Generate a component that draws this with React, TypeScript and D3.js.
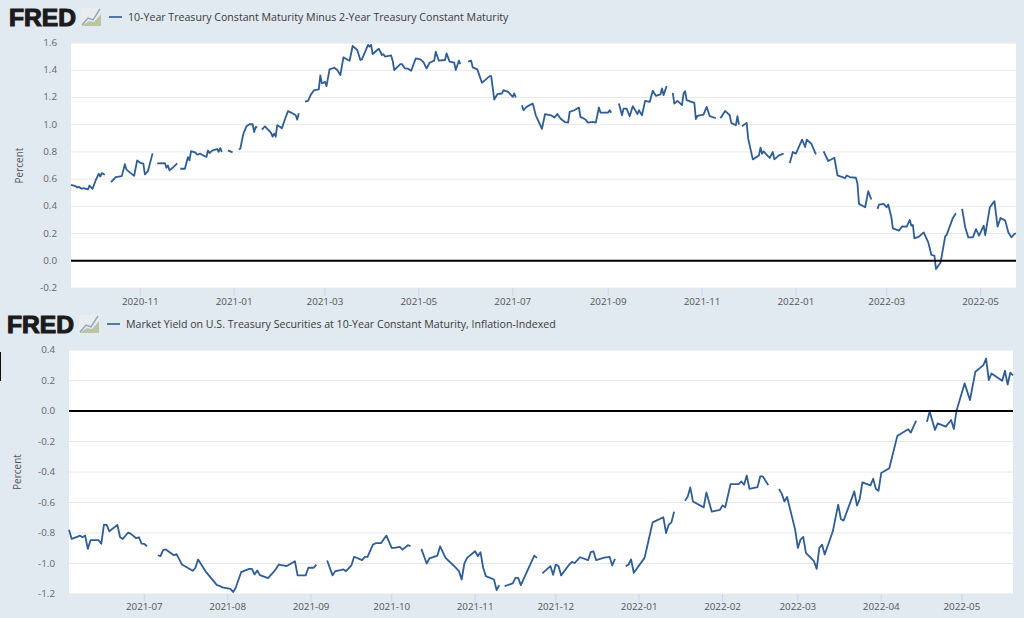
import React from "react";
import * as d3 from "d3";

// Days are counted from each chart's start date; null marks a gap in the published series.
const spreadStart = "2020-09-17";
const spreadEnd = "2022-05-24";
const spreadTitle = "10-Year Treasury Constant Maturity Minus 2-Year Treasury Constant Maturity";
const spreadDays: number[] = [
  0,3,4,5,7,8,11,12,14,16,18,19,20,22,23,
  26,29,31,33,35,36,38,41,43,45,47,48,50,53,54,
  56,61,62,63,64,66,69,70,
  71,74,76,77,78,81,82,84,85,88,89,90,92,95,96,97,98,99,
  102,105,106,
  109,110,112,114,116,118,119,120,121,122,
  124,126,130,131,132,133,134,136,137,139,141,143,146,147,148,149,
  152,154,156,158,161,162,163,164,165,166,168,171,173,175,177,180,181,183,186,188,189,193,194,195,196,200,202,203,204,208,209,210,214,215,217,219,221,224,227,229,231,233,236,237,239,243,244,246,249,250,252,253,254,
  258,260,261,264,267,269,272,273,275,277,280,281,284,287,288,289,290,
  293,294,296,300,302,306,308,312,314,316,318,321,323,324,327,330,331,334,336,339,341,343,344,349,350,351,352,
  356,358,359,361,363,365,368,369,371,373,376,378,380,383,384,385,387,388,
  391,392,394,396,397,398,399,400,405,406,407,411,413,415,419,420,
  422,425,428,429,432,433,434,435,
  436,439,440,443,447,448,449,450,454,456,457,460,463,464,
  467,469,471,475,477,478,481,484,485,
  489,492,496,498,503,504,506,510,511,512,516,518,520,521,
  524,525,528,530,531,533,534,538,540,543,545,546,547,548,551,554,557,559,561,562,565,568,569,573,575,576,
  579,581,583,586,588,590,593,594,597,600,602,604,607,609,611,613,614,
];
const spreadValues: (number | null)[] = [
  .558,.548,.538,.543,.529,.533,.524,.553,.529,.59,.639,.619,.644,.632,null,
  .578,.615,.619,.622,.71,.671,.651,.624,.737,.72,.713,.634,.659,.789,null,
  .715,.718,.683,.70,.664,.683,.715,null,
  .676,.676,.762,.737,.806,.794,.779,.787,.779,.762,.811,.792,.811,.821,.801,.828,.799,null,
  .811,.796,null,
  .819,.823,.934,.988,1.003,1.003,.946,.983,.98,null,
  .964,.988,.939,.912,.934,.912,.996,.983,.973,1.04,1.099,1.089,1.069,1.037,1.084,null,
  1.17,1.175,1.224,1.254,1.259,1.362,1.303,1.308,1.315,1.283,1.406,1.418,1.401,1.364,1.495,1.475,1.47,1.578,1.549,1.475,1.48,1.586,1.573,1.586,1.519,1.558,1.512,1.517,1.5,1.509,1.47,1.401,1.445,1.445,1.413,1.411,1.396,1.487,1.48,1.46,1.413,1.455,1.47,1.536,1.47,1.475,1.524,1.463,1.455,1.401,1.47,1.445,null,
  1.463,1.47,1.421,1.406,1.308,1.327,1.357,1.357,1.185,1.224,1.229,1.254,1.241,1.205,1.229,1.2,null,
  1.143,1.106,1.131,1.155,1.069,.969,1.078,1.069,1.052,1.078,1.045,1.018,1.015,1.094,1.106,1.126,1.057,1.04,1.015,1.02,1.015,1.126,1.089,1.089,1.106,1.087,null,
  1.155,1.069,1.118,1.118,1.062,1.136,1.078,1.106,1.069,1.175,1.167,1.249,1.212,1.222,1.266,1.217,1.283,null,
  1.234,1.155,1.175,1.155,1.143,1.229,1.246,1.18,1.16,1.04,1.064,1.074,1.131,1.062,1.047,null,
  1.047,1.101,1.069,1.013,.996,1.062,1.0,null,
  .988,1.013,.897,.745,.774,.831,.787,.804,.755,.799,.745,.774,.787,null,
  .718,.799,.787,.89,.836,.89,.86,.782,null,
  .804,.733,.757,.627,.607,.627,.615,.61,.565,.418,.393,.511,.45,null,
  .381,.413,.418,.393,.413,.32,.238,.221,.253,.251,.3,.258,.263,.165,.177,.209,.135,.044,.037,-.061,-.012,.179,.192,.315,.349,null,
  .381,.246,.172,.172,.233,.184,.258,.189,.393,.438,.251,.315,.295,.209,.172,.197,.202,
];
const spreadYTicks = [-0.2, 0, 0.2, 0.4, 0.6, 0.8, 1.0, 1.2, 1.4, 1.6];
const spreadXTicks = ["2020-11","2021-01","2021-03","2021-05","2021-07","2021-09","2021-11","2022-01","2022-03","2022-05"];

const realStart = "2021-06-03";
const realEnd = "2022-05-20";
const realTitle = "Market Yield on U.S. Treasury Securities at 10-Year Constant Maturity, Inflation-Indexed";
const realDays: number[] = [
  0,1,3,4,5,6,7,8,11,12,13,14,15,18,19,20,22,23,25,26,27,28,29,30,
  33,34,35,36,39,40,42,46,47,48,51,55,56,57,60,61,62,64,67,68,69,70,71,74,76,77,78,81,84,85,88,89,91,92,93,
  96,98,99,101,102,103,105,106,109,110,111,113,114,116,118,120,121,123,124,126,127,128,
  131,133,134,137,138,140,143,145,146,147,148,151,152,153,154,155,158,159,160,161,
  162,165,166,167,168,173,174,175,
  176,179,180,181,182,183,186,187,188,190,193,194,195,196,199,201,202,203,204,
  207,208,209,210,214,215,217,221,222,223,224,225,226,
  229,230,231,232,236,237,239,242,243,244,246,249,250,251,252,253,256,257,258,260,261,
  264,265,266,267,270,271,272,273,274,277,278,279,280,281,284,286,287,288,292,293,294,295,298,299,300,301,302,305,308,309,312,313,315,316,
  319,320,322,323,326,328,329,330,333,335,337,340,341,342,343,347,348,349,350,351,
];
const realValues: (number | null)[] = [
  -.778,-.839,-.826,-.817,-.828,-.817,-.904,-.847,-.847,-.871,-.745,-.747,-.789,-.747,-.828,-.839,-.797,-.806,-.834,-.828,-.869,-.871,-.887,null,
  -.946,-.952,-.913,-.908,-.946,-.939,-1.007,-1.048,-1.028,-.974,-1.057,-1.142,-1.146,-1.157,-1.166,-1.187,-1.159,-1.057,-1.035,-1.035,-1.072,-1.046,-1.076,-1.096,-1.057,-1.035,-1.007,-1.017,-.985,-1.078,-1.078,-1.028,-1.028,-1.007,null,
  -.98,-1.078,-1.05,-1.044,-1.039,-1.05,-1.013,-.956,-.978,-.956,-.956,-.876,-.867,-.867,-.817,-.898,-.898,-.891,-.909,-.88,-.887,null,
  -.904,-1.0,-.967,-.948,-.887,-.963,-1.013,-1.05,-1.105,-1.0,-.963,-.92,-.952,-.926,-1.028,-1.083,-1.105,-1.174,-1.142,null,
  -1.148,-1.131,-1.094,-1.094,-1.142,-.948,-.963,null,
  -1.065,-1.017,-1.074,-1.007,-1.017,-1.078,-1.007,-.989,-.998,-.959,-.978,-.926,-.92,-.978,-.961,-.956,-1.013,-.97,null,
  -1.017,-1.008,-.974,-1.061,-.963,-.887,-.73,-.697,-.8,-.745,-.73,-.66,null,
  -.588,-.564,-.501,-.593,-.632,-.534,-.66,-.649,-.619,-.632,-.479,-.479,-.462,-.484,-.423,-.51,-.499,-.429,-.429,-.486,null,
  -.512,-.542,-.593,-.564,-.778,-.898,-.843,-.826,-.93,-.985,-1.035,-.898,-.876,-.941,-.789,-.614,-.708,-.719,-.527,-.621,-.577,-.468,-.488,-.444,-.51,-.523,-.407,-.375,-.163,-.153,-.12,-.142,-.063,null,
  -.07,-.004,-.124,-.081,-.102,-.059,-.118,.002,.181,.072,.257,.301,.344,.203,.246,.198,.264,.174,.251,.233,
];
const realYTicks = [-1.2, -1.0, -0.8, -0.6, -0.4, -0.2, 0, 0.2, 0.4];
const realXTicks = ["2021-07","2021-08","2021-09","2021-10","2021-11","2021-12","2022-01","2022-02","2022-03","2022-04","2022-05"];

const FONT = "'Open Sans', 'Noto Sans', sans-serif";
const LINE = "#2f5d94";

type PanelProps = {
  title: string; start: string; end: string; days: number[]; values: (number | null)[];
  yTicks: number[]; xTicks: string[]; yDomain: [number, number];
  left: number; right: number; top: number; bottom: number;
  logoY: number; logoX: number; titleX: number; labelY: number; percentX: number;
};

function Logo({ x, y }: { x: number; y: number }) {
  return (
    <g transform={`translate(${x},${y})`}>
      <text x={0} y={17} fontFamily="'Liberation Sans', Arial, sans-serif" fontWeight={700} fontSize={23.5}
        fill="#1c1a1a" stroke="#1c1a1a" strokeWidth={1.1} textLength={67} lengthAdjust="spacingAndGlyphs">FRED</text>
      <rect x={72} y={-1} width={20} height={18} fill="#e9edf0" />
      <path d="M73 16 L79 9 L84 11 L91 0" fill="none" stroke="#8da6bd" strokeWidth={1.4} />
      <path d="M73 16.5 L80 12 L85 13 L92 5 L92 17 L73 17 Z" fill="#b9c6a4" />
    </g>
  );
}

function Panel(p: PanelProps) {
  const parse = d3.utcParse("%Y-%m-%d");
  const parseMonth = d3.utcParse("%Y-%m");
  const t0 = parse(p.start)!;
  const x = d3.scaleUtc().domain([t0, parse(p.end)!]).range([p.left, p.right]);
  const y = d3.scaleLinear().domain(p.yDomain).range([p.bottom, p.top]);
  const points = p.days.map((d, i) => ({ date: d3.utcDay.offset(t0, d), value: p.values[i] }));
  const line = d3.line<{ date: Date; value: number | null }>()
    .defined(d => d.value !== null)
    .x(d => x(d.date))
    .y(d => y(d.value as number));
  return (
    <g>
      <Logo x={p.logoX} y={p.logoY} />
      <line x1={p.titleX - 19} x2={p.titleX - 6} y1={p.logoY + 8} y2={p.logoY + 8} stroke={LINE} strokeWidth={1.6} />
      <text x={p.titleX} y={p.logoY + 12} fontFamily={FONT} fontSize={10.6} fill="#3a3a3a">{p.title}</text>
      <rect x={p.left} y={p.top} width={p.right - p.left} height={p.bottom - p.top} fill="#ffffff" />
      {p.yTicks.filter(t => t !== 0).map(t => (
        <line key={t} x1={p.left} x2={p.right} y1={y(t)} y2={y(t)} stroke="#e8e8e8" strokeWidth={1} />
      ))}
      {p.xTicks.map(t => {
        const px = x(parseMonth(t)!);
        return (
          <g key={t}>
            <line x1={px} x2={px} y1={p.bottom} y2={p.bottom + 8} stroke="#ccd6eb" strokeWidth={1} />
            <text x={px} y={p.labelY} textAnchor="middle" fontFamily={FONT} fontSize={9.8} fill="#555">{t}</text>
          </g>
        );
      })}
      {p.yTicks.map(t => (
        <text key={t} x={p.left - 14} y={y(t) + 3} textAnchor="end" fontFamily={FONT} fontSize={9.8} fill="#666">
          {t.toFixed(1)}
        </text>
      ))}
      <text transform={`translate(${p.percentX},${(p.top + p.bottom) / 2}) rotate(-90)`} textAnchor="middle"
        fontFamily={FONT} fontSize={10} fill="#555">Percent</text>
      <path d={line(points) ?? ""} fill="none" stroke={LINE} strokeWidth={1.8} strokeLinejoin="round" />
      <line x1={p.left} x2={p.right} y1={y(0)} y2={y(0)} stroke="#000" strokeWidth={2} />
    </g>
  );
}

export default function App() {
  return (
    <svg width={1024} height={618} viewBox="0 0 1024 618"
      style={{ position: "absolute", left: 0, top: 0, display: "block", background: "#e1e9f1" }}>
      <Panel title={spreadTitle} start={spreadStart} end={spreadEnd} days={spreadDays} values={spreadValues}
        yTicks={spreadYTicks} xTicks={spreadXTicks} yDomain={[-0.2, 1.6]}
        left={71} right={1016} top={43} bottom={288} logoX={9} logoY={9} titleX={128} labelY={305} percentX={23} />
      <Panel title={realTitle} start={realStart} end={realEnd} days={realDays} values={realValues}
        yTicks={realYTicks} xTicks={realXTicks} yDomain={[-1.2, 0.4]}
        left={69} right={1013} top={350} bottom={594} logoX={7} logoY={316} titleX={126} labelY={610} percentX={21} />
      <line x1={0.5} x2={0.5} y1={352} y2={381} stroke="#111" strokeWidth={1} />
    </svg>
  );
}
